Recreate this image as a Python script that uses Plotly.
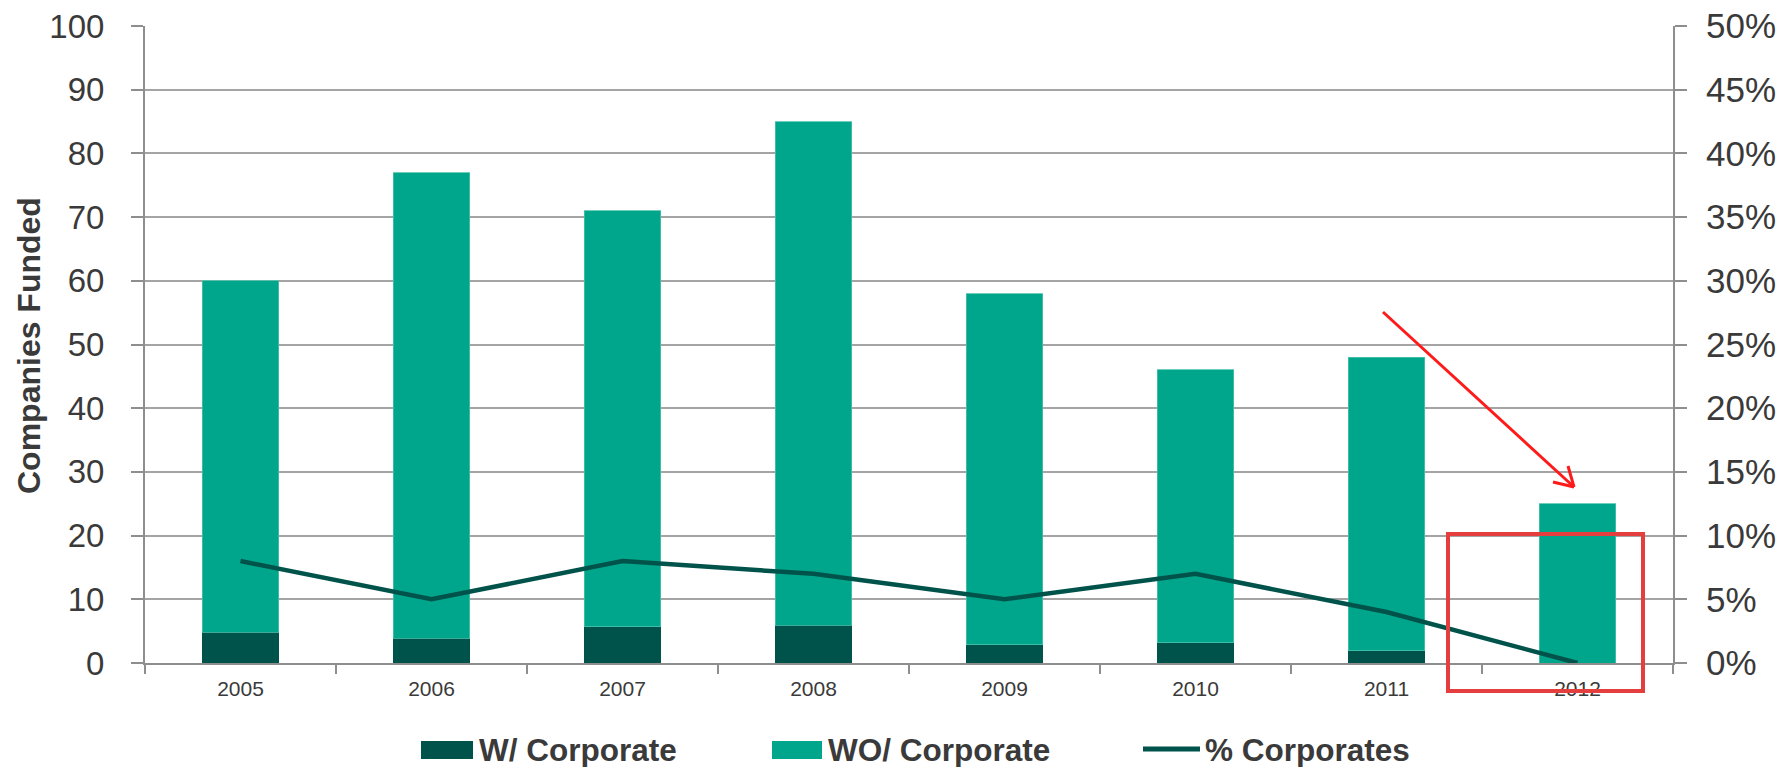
import plotly.graph_objects as go

# Companies funded per year, split by corporate participation
years = ["2005", "2006", "2007", "2008", "2009", "2010", "2011", "2012"]
with_corporate = [4.8, 3.85, 5.7, 5.95, 2.9, 3.2, 1.9, 0.0]
without_corporate = [55.2, 73.15, 65.3, 79.05, 55.1, 42.8, 46.1, 25.0]
pct_corporates = [0.08, 0.05, 0.08, 0.07, 0.05, 0.07, 0.04, 0.0]

DARK = "#00534A"
TEAL = "#00A68B"
TEXT = "#3A3A3A"
GRID = "#A4A4A4"
AXIS = "#8E8E8E"
FONT = "Liberation Sans, Arial, sans-serif"

W, H = 1786, 767
L, R, T, B = 145, 113, 26, 104
PW, PH = W - L - R, H - T - B


def px(x):
    return (x - L) / PW


def py(y):
    return (H - B - y) / PH


fig = go.Figure()
fig.add_trace(go.Bar(x=years, y=with_corporate, name="W/ Corporate",
                     marker=dict(color=DARK, line=dict(width=0))))
fig.add_trace(go.Bar(x=years, y=without_corporate, name="WO/ Corporate",
                     marker=dict(color=TEAL, line=dict(width=0.8, color="#4CC2AC"))))
fig.add_trace(go.Scatter(x=years, y=pct_corporates, name="% Corporates", yaxis="y2",
                         mode="lines", line=dict(color=DARK, width=4.5)))

shapes = []
annotations = []

# Legend drawn by hand so the swatches keep their wide shape
legend_items = [
    ("rect", DARK, 421, 473, "W/ Corporate", 477),
    ("rect", TEAL, 772, 822, "WO/ Corporate", 826),
    ("line", DARK, 1143, 1200, "% Corporates", 1203),
]
for kind, color, x0, x1, label, tx in legend_items:
    if kind == "rect":
        shapes.append(dict(type="rect", xref="paper", yref="paper",
                           x0=px(x0), x1=px(x1), y0=py(759), y1=py(741),
                           fillcolor=color, line=dict(width=0)))
    else:
        shapes.append(dict(type="line", xref="paper", yref="paper",
                           x0=px(x0), x1=px(x1), y0=py(749), y1=py(749),
                           line=dict(color=color, width=5)))
    annotations.append(dict(text=f"<b>{label}</b>", xref="paper", yref="paper",
                            x=px(tx), y=py(750), xanchor="left", yanchor="middle",
                            showarrow=False,
                            font=dict(family=FONT, size=31.5, color=TEXT)))

# Left axis title
annotations.append(dict(text="<b>Companies Funded</b>", xref="paper", yref="paper",
                        x=px(29), y=py(346), xanchor="center", yanchor="middle",
                        textangle=-90, showarrow=False,
                        font=dict(family=FONT, size=32, color=TEXT)))

# Highlight box around the last year
shapes.append(dict(type="rect", xref="paper", yref="paper",
                   x0=px(1448), x1=px(1643), y0=py(691), y1=py(534),
                   line=dict(color="#E53E3E", width=4), fillcolor="rgba(0,0,0,0)"))

# Red arrow pointing down at the last bar
ARROW = "#FF1A1A"
for (x0, y0, x1, y1) in [(1383, 312, 1574, 487), (1553, 482, 1574, 487), (1568, 466, 1574, 487)]:
    shapes.append(dict(type="line", xref="paper", yref="paper",
                       x0=px(x0), y0=py(y0), x1=px(x1), y1=py(y1),
                       line=dict(color=ARROW, width=3)))

fig.update_layout(
    width=W, height=H,
    margin=dict(l=L, r=R, t=T, b=B),
    paper_bgcolor="white", plot_bgcolor="white",
    barmode="stack", bargap=0.6,
    showlegend=False,
    font=dict(family=FONT, color=TEXT),
    xaxis=dict(type="category", showline=True, linecolor=AXIS, linewidth=2,
               ticks="outside", tickson="boundaries", ticklen=9, tickcolor=AXIS,
               tickwidth=1.5, showgrid=False, ticklabelstandoff=6, automargin=False,
               tickfont=dict(family=FONT, size=21, color=TEXT)),
    yaxis=dict(range=[0, 100], dtick=10, showline=True, linecolor=AXIS, linewidth=2,
               ticks="outside", ticklen=12, tickcolor=AXIS, tickwidth=1.5,
               showgrid=True, gridcolor=GRID, gridwidth=1.5, zeroline=False,
               ticklabelstandoff=20, automargin=False,
               tickfont=dict(family=FONT, size=33, color=TEXT)),
    yaxis2=dict(range=[0, 0.5], dtick=0.05, tickformat=".0%", overlaying="y",
                side="right", showline=True, linecolor=AXIS, linewidth=2,
                ticks="outside", ticklen=12, tickcolor=AXIS, tickwidth=1.5,
                showgrid=False, zeroline=False, ticklabelstandoff=12, automargin=False,
                tickfont=dict(family=FONT, size=35, color=TEXT)),
    shapes=shapes,
    annotations=annotations,
)

fig.write_html("out.html")
